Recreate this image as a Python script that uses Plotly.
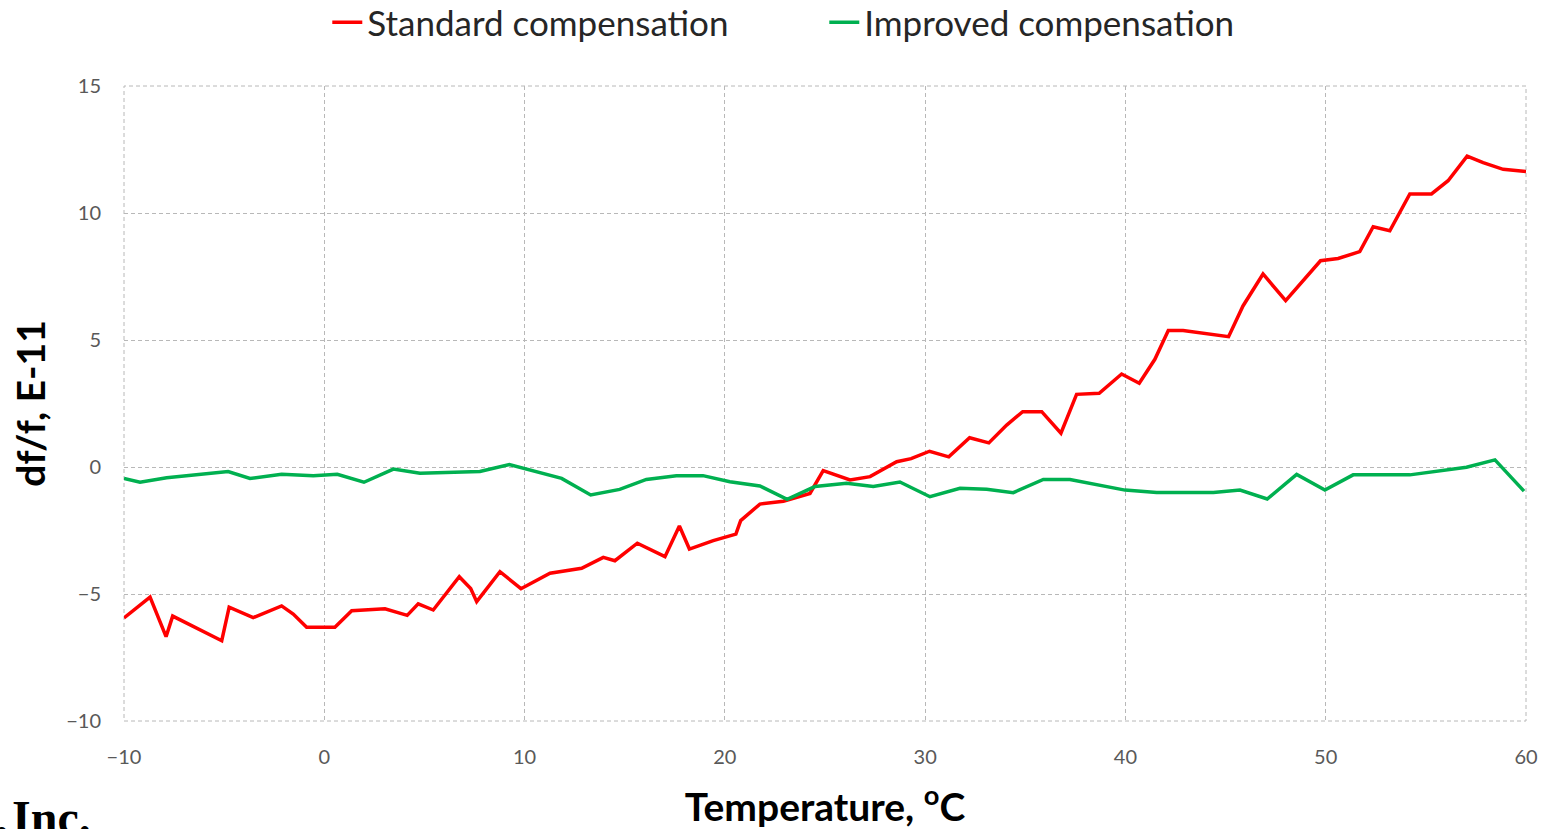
import plotly.graph_objects as go

# Temperature (°C) and fractional frequency deviation (E-11) per compensation scheme
std_temp = [-10, -8.7, -7.9, -7.57, -5.12, -4.75, -3.55, -2.13, -1.55, -0.88, 0.53, 1.37,
            3.03, 4.14, 4.69, 5.44, 6.74, 7.31, 7.61, 8.77, 9.82, 11.27, 12.85, 13.93,
            14.51, 15.63, 17.01, 17.73, 18.23, 19.42, 20.55, 20.79, 21.75, 22.92, 24.25,
            24.91, 26.25, 27.25, 28.58, 29.3, 30.22, 31.18, 32.22, 33.18, 34.07, 34.87,
            35.82, 36.78, 37.56, 38.69, 39.81, 40.69, 41.47, 42.14, 42.88, 44.3, 45.15,
            45.87, 46.87, 48.0, 49.74, 50.62, 51.7, 52.37, 53.2, 54.2, 55.28, 56.11,
            57.06, 57.86, 58.86, 60]
std_dff = [-5.94, -5.12, -6.68, -5.87, -6.84, -5.52, -5.93, -5.47, -5.79, -6.31, -6.31, -5.66,
           -5.58, -5.84, -5.39, -5.63, -4.32, -4.78, -5.30, -4.12, -4.79, -4.18, -3.99, -3.56,
           -3.69, -3.0, -3.53, -2.32, -3.23, -2.90, -2.64, -2.11, -1.46, -1.35, -1.04,
           -0.14, -0.51, -0.38, 0.21, 0.33, 0.62, 0.40, 1.15, 0.95, 1.65, 2.18,
           2.18, 1.33, 2.86, 2.90, 3.66, 3.30, 4.24, 5.37, 5.37, 5.20, 5.13,
           6.34, 7.60, 6.55, 8.12, 8.21, 8.48, 9.46, 9.30, 10.75, 10.75, 11.27,
           12.24, 11.98, 11.72, 11.63]

imp_temp = [-10, -9.2, -7.87, -6.2, -4.8, -3.71, -2.13, -0.55, 0.65, 1.98, 3.45, 4.78,
            7.77, 9.24, 10.43, 11.85, 13.3, 14.75, 16.08, 17.58, 18.91, 20.25, 21.75,
            23.11, 24.5, 26.08, 27.41, 28.74, 30.24, 31.74, 33.07, 34.4, 35.9, 37.23,
            39.98, 41.56, 44.39, 45.72, 47.08, 48.55, 49.96, 51.37, 54.2, 55.53, 57.03,
            58.45, 59.9]
imp_dff = [-0.45, -0.60, -0.42, -0.29, -0.18, -0.45, -0.29, -0.34, -0.29, -0.60, -0.08, -0.25,
           -0.18, 0.10, -0.14, -0.45, -1.10, -0.88, -0.49, -0.34, -0.34, -0.58, -0.75,
           -1.27, -0.77, -0.64, -0.77, -0.59, -1.17, -0.84, -0.88, -1.01, -0.49, -0.49,
           -0.91, -1.0, -1.0, -0.91, -1.26, -0.29, -0.91, -0.31, -0.31, -0.16, -0.01,
           0.28, -0.95]

x_ticks = [-10, 0, 10, 20, 30, 40, 50, 60]
y_ticks = [-10, -5, 0, 5, 10, 15]

GRID_COLOR = "#b8b8b8"
GRID_DASH = "4px,3px"

fig = go.Figure()
fig.add_trace(go.Scatter(x=std_temp, y=std_dff, mode="lines", name="Standard compensation",
                         line=dict(color="#ff0000", width=3.5)))
fig.add_trace(go.Scatter(x=imp_temp, y=imp_dff, mode="lines", name="Improved compensation",
                         line=dict(color="#00b050", width=3.5)))

grid = dict(showgrid=True, gridcolor=GRID_COLOR, griddash=GRID_DASH, gridwidth=1,
            zeroline=False, showline=False, ticks="",
            tickfont=dict(family="Lato", size=20, color="#595959"))

fig.update_layout(
    width=1556, height=829,
    margin=dict(l=124, r=30, t=86, b=108, autoexpand=False),
    plot_bgcolor="white", paper_bgcolor="white",
    showlegend=True,
    legend=dict(orientation="h", x=0.145, xanchor="left", y=1.1, yanchor="middle",
                font=dict(family="Lato", size=35, color="#262626"),
                entrywidth=452, entrywidthmode="pixels", tracegroupgap=0),
    xaxis=dict(range=[-10, 60], tickvals=x_ticks, ticklabelstandoff=22, **grid,
               title=dict(text="Temperature, <sup>o</sup>C", standoff=27,
                          font=dict(family="Lato", size=39, color="#000000", weight="bold"))),
    yaxis=dict(range=[-10, 15], tickvals=y_ticks, ticklabelstandoff=22, **grid,
               title=dict(text="df/f, E-11", standoff=8,
                          font=dict(family="Lato", size=39, color="#000000", weight="bold"))),
    # dashed frame around the plotting area
    shapes=[dict(type="rect", xref="paper", yref="paper", x0=0, y0=0, x1=1, y1=1,
                 line=dict(color=GRID_COLOR, width=1, dash=GRID_DASH), layer="below")],
    annotations=[dict(text="<b>,\u200aInc.</b>", xref="paper", yref="paper",
                      x=-0.022, y=-0.107, xanchor="right", yanchor="top", showarrow=False,
                      font=dict(family="Liberation Serif", size=48, color="#000000"))],
)

fig.write_html("out.html")
